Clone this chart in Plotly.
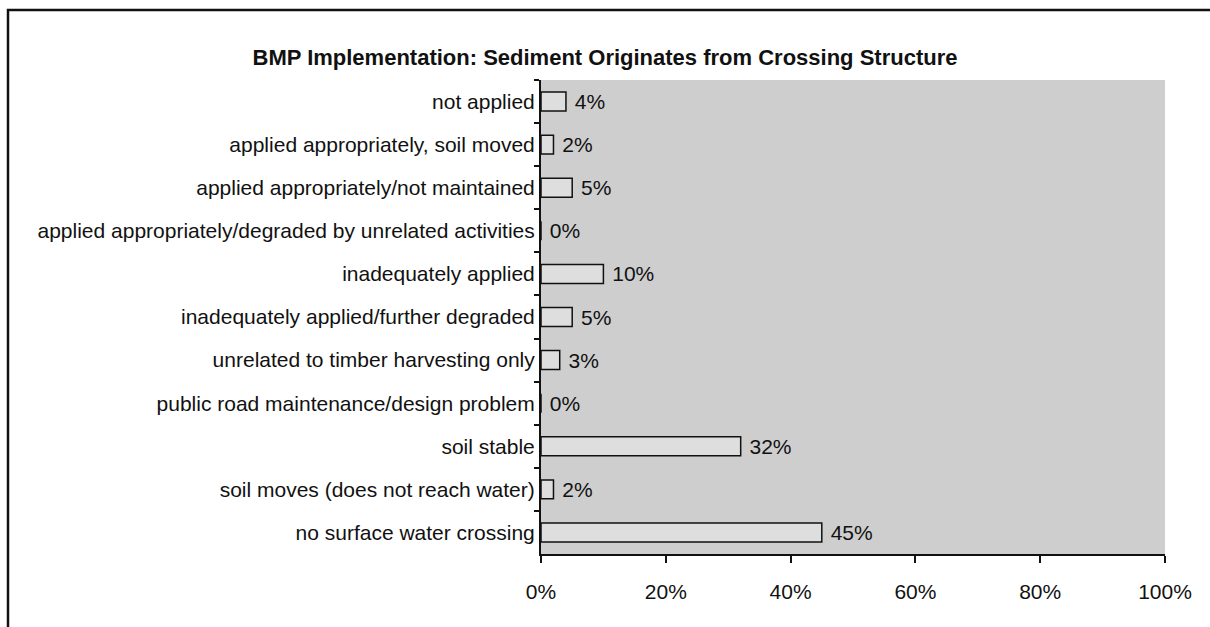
import plotly.graph_objects as go

categories = [
    "not applied",
    "applied appropriately, soil moved",
    "applied appropriately/not maintained",
    "applied appropriately/degraded by unrelated activities",
    "inadequately applied",
    "inadequately applied/further degraded",
    "unrelated to timber harvesting only",
    "public road maintenance/design problem",
    "soil stable",
    "soil moves (does not reach water)",
    "no surface water crossing",
]
percent_values = [4, 2, 5, 0, 10, 5, 3, 0, 32, 2, 45]
x_tick_values = [0, 20, 40, 60, 80, 100]
x_tick_labels = ["0%", "20%", "40%", "60%", "80%", "100%"]
title_text = "BMP Implementation: Sediment Originates from Crossing Structure"

FONT = "Liberation Sans, Arial, sans-serif"
LABEL_SIZE = 21

fig = go.Figure(
    go.Bar(
        x=percent_values,
        y=categories,
        orientation="h",
        marker=dict(color="#dedede", line=dict(color="#111111", width=1.5)),
        text=[f"\u00a0{v}%" for v in percent_values],
        textposition="outside",
        constraintext="none",
        textfont=dict(family=FONT, size=LABEL_SIZE, color="#111111"),
        cliponaxis=False,
    )
)

W, H = 1210, 627
L, R, T, B = 541, 1165, 80, 554

fig.update_layout(
    width=W,
    height=H,
    margin=dict(l=L, r=W - R, t=T, b=H - B, pad=0),
    paper_bgcolor="white",
    plot_bgcolor="#cecece",
    bargap=0.56,
    showlegend=False,
    uniformtext=dict(mode=False),
    font=dict(family=FONT, size=LABEL_SIZE, color="#111111"),
    title=dict(
        text=f"<b>{title_text}</b>",
        x=0.5,
        xref="container",
        xanchor="center",
        y=1 - 57 / H,
        yref="container",
        yanchor="middle",
        font=dict(family=FONT, size=22, color="#111111"),
    ),
)

fig.update_xaxes(
    range=[0, 100],
    tickvals=x_tick_values,
    ticktext=x_tick_labels,
    showgrid=False,
    zeroline=False,
    showline=True,
    linecolor="#111111",
    linewidth=2,
    ticks="outside",
    ticklen=7,
    tickwidth=1.5,
    tickcolor="#111111",
    ticklabelstandoff=11,
    tickfont=dict(family=FONT, size=LABEL_SIZE, color="#111111"),
)

fig.update_yaxes(
    autorange="reversed",
    showgrid=False,
    zeroline=False,
    showline=True,
    linecolor="#111111",
    linewidth=2,
    ticks="outside",
    tickson="boundaries",
    ticklen=5,
    tickwidth=1.5,
    tickcolor="#111111",
    tickfont=dict(family=FONT, size=LABEL_SIZE, color="#111111"),
)

# frame around the whole chart (extends past the right and bottom edges)
pw, ph = R - L, B - T
fig.add_shape(
    type="rect",
    xref="paper",
    yref="paper",
    x0=(8 - L) / pw,
    x1=(W + 20 - L) / pw,
    y0=(B - (H + 20)) / ph,
    y1=(B - 10) / ph,
    line=dict(color="#111111", width=2.5),
    fillcolor="rgba(0,0,0,0)",
    layer="below",
)

fig.write_html("out.html")
